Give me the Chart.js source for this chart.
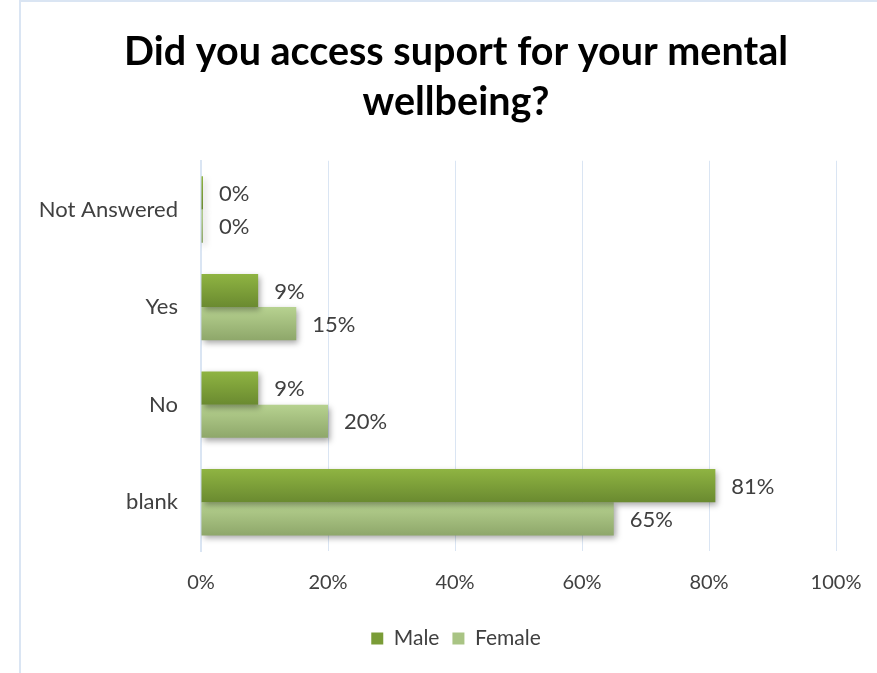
<!DOCTYPE html>
<html>
<head>
<meta charset="utf-8">
<script src="https://cdn.jsdelivr.net/npm/chart.js@4"></script>
<style>
  html, body { margin: 0; padding: 0; background: #fff; }
  #wrap { position: relative; width: 877px; height: 673px; }
  #frame { position: absolute; left: 19px; top: 0; right: 0; bottom: 0;
           border-left: 2px solid #dae5f3; border-top: 2px solid #dae5f3; pointer-events: none; }
  canvas { position: absolute; left: 0; top: 0; }
</style>
</head>
<body>
<div id="wrap">
  <canvas id="chart-support" width="877" height="673"></canvas>
  <div id="frame"></div>
</div>
<script>
const categories = ['Not Answered', 'Yes', 'No', 'blank'];
const maleValues = [0, 9, 9, 81];
const femaleValues = [0, 15, 20, 65];
const xTicks = [0, 20, 40, 60, 80, 100];

const FONT = 'Lato, "DejaVu Sans", sans-serif';
const TEXT = '#404040';
const GRID = '#dae5f3';

// top/bottom colours of each bar's vertical gradient
const shades = [
  { solid: '#7a9c37', top: '#8fb442', bottom: '#6a8a30' },
  { solid: '#a9c484', top: '#b7d290', bottom: '#8ea76a' }
];

const barStyle = {
  id: 'barStyle',
  beforeDatasetsDraw(chart) {
    const ctx = chart.ctx;
    chart.data.datasets.forEach((ds, i) => {
      chart.getDatasetMeta(i).data.forEach(bar => {
        const h = bar.height;
        const g = ctx.createLinearGradient(0, bar.y - h / 2, 0, bar.y + h / 2);
        g.addColorStop(0, shades[i].top);
        g.addColorStop(1, shades[i].bottom);
        bar.options = Object.assign({}, bar.options, { backgroundColor: g });
      });
    });
    ctx.save();
    ctx.shadowColor = 'rgba(0,0,0,0.35)';
    ctx.shadowBlur = 6;
    ctx.shadowOffsetX = 2;
    ctx.shadowOffsetY = 3;
  },
  afterDatasetsDraw(chart) {
    const ctx = chart.ctx;
    ctx.restore();
    ctx.save();
    ctx.font = '22px ' + FONT;
    ctx.fillStyle = TEXT;
    ctx.textAlign = 'left';
    ctx.textBaseline = 'middle';
    chart.data.datasets.forEach((ds, i) => {
      chart.getDatasetMeta(i).data.forEach((bar, j) => {
        ctx.fillText(ds.data[j] + '%', bar.x + 16, bar.y + 1);
      });
    });
    ctx.restore();
  }
};

new Chart(document.getElementById('chart-support'), {
  type: 'bar',
  data: {
    labels: categories,
    datasets: [
      { label: 'Male', data: maleValues, backgroundColor: shades[0].solid, minBarLength: 2 },
      { label: 'Female', data: femaleValues, backgroundColor: shades[1].solid, minBarLength: 2 }
    ]
  },
  options: {
    indexAxis: 'y',
    responsive: false,
    animation: false,
    categoryPercentage: 0.68,
    barPercentage: 1,
    layout: { padding: { left: 76, right: 41, top: 0, bottom: 14 } },
    plugins: {
      title: {
        display: true,
        text: ['Did you access suport for your mental', 'wellbeing?'],
        color: '#000',
        font: { family: FONT, size: 39.5, weight: 'bold', lineHeight: 1.25 },
        padding: { top: 28, bottom: 34 }
      },
      legend: {
        position: 'bottom',
        labels: {
          color: TEXT,
          font: { family: FONT, size: 21 },
          boxWidth: 12, boxHeight: 12, padding: 13
        }
      },
      tooltip: { enabled: false }
    },
    scales: {
      x: {
        min: 0, max: 100,
        afterBuildTicks: s => { s.ticks = xTicks.map(v => ({ value: v })); },
        // the end labels fit inside the layout padding already
        afterFit: s => { s.paddingLeft = 0; s.paddingRight = 0; },
        grid: { color: GRID, drawTicks: false },
        border: { display: false },
        ticks: { color: TEXT, font: { family: FONT, size: 20 }, padding: 20, callback: v => v + '%' }
      },
      y: {
        // category names reach left of the axis box, so do not clip them
        afterFit: s => { s.width = 125; s._computeLabelArea = () => undefined; },
        grid: { display: false },
        border: { color: GRID, width: 2 },
        ticks: { color: TEXT, font: { family: FONT, size: 22 }, padding: 15 }
      }
    }
  },
  plugins: [barStyle]
});
</script>
</body>
</html>
